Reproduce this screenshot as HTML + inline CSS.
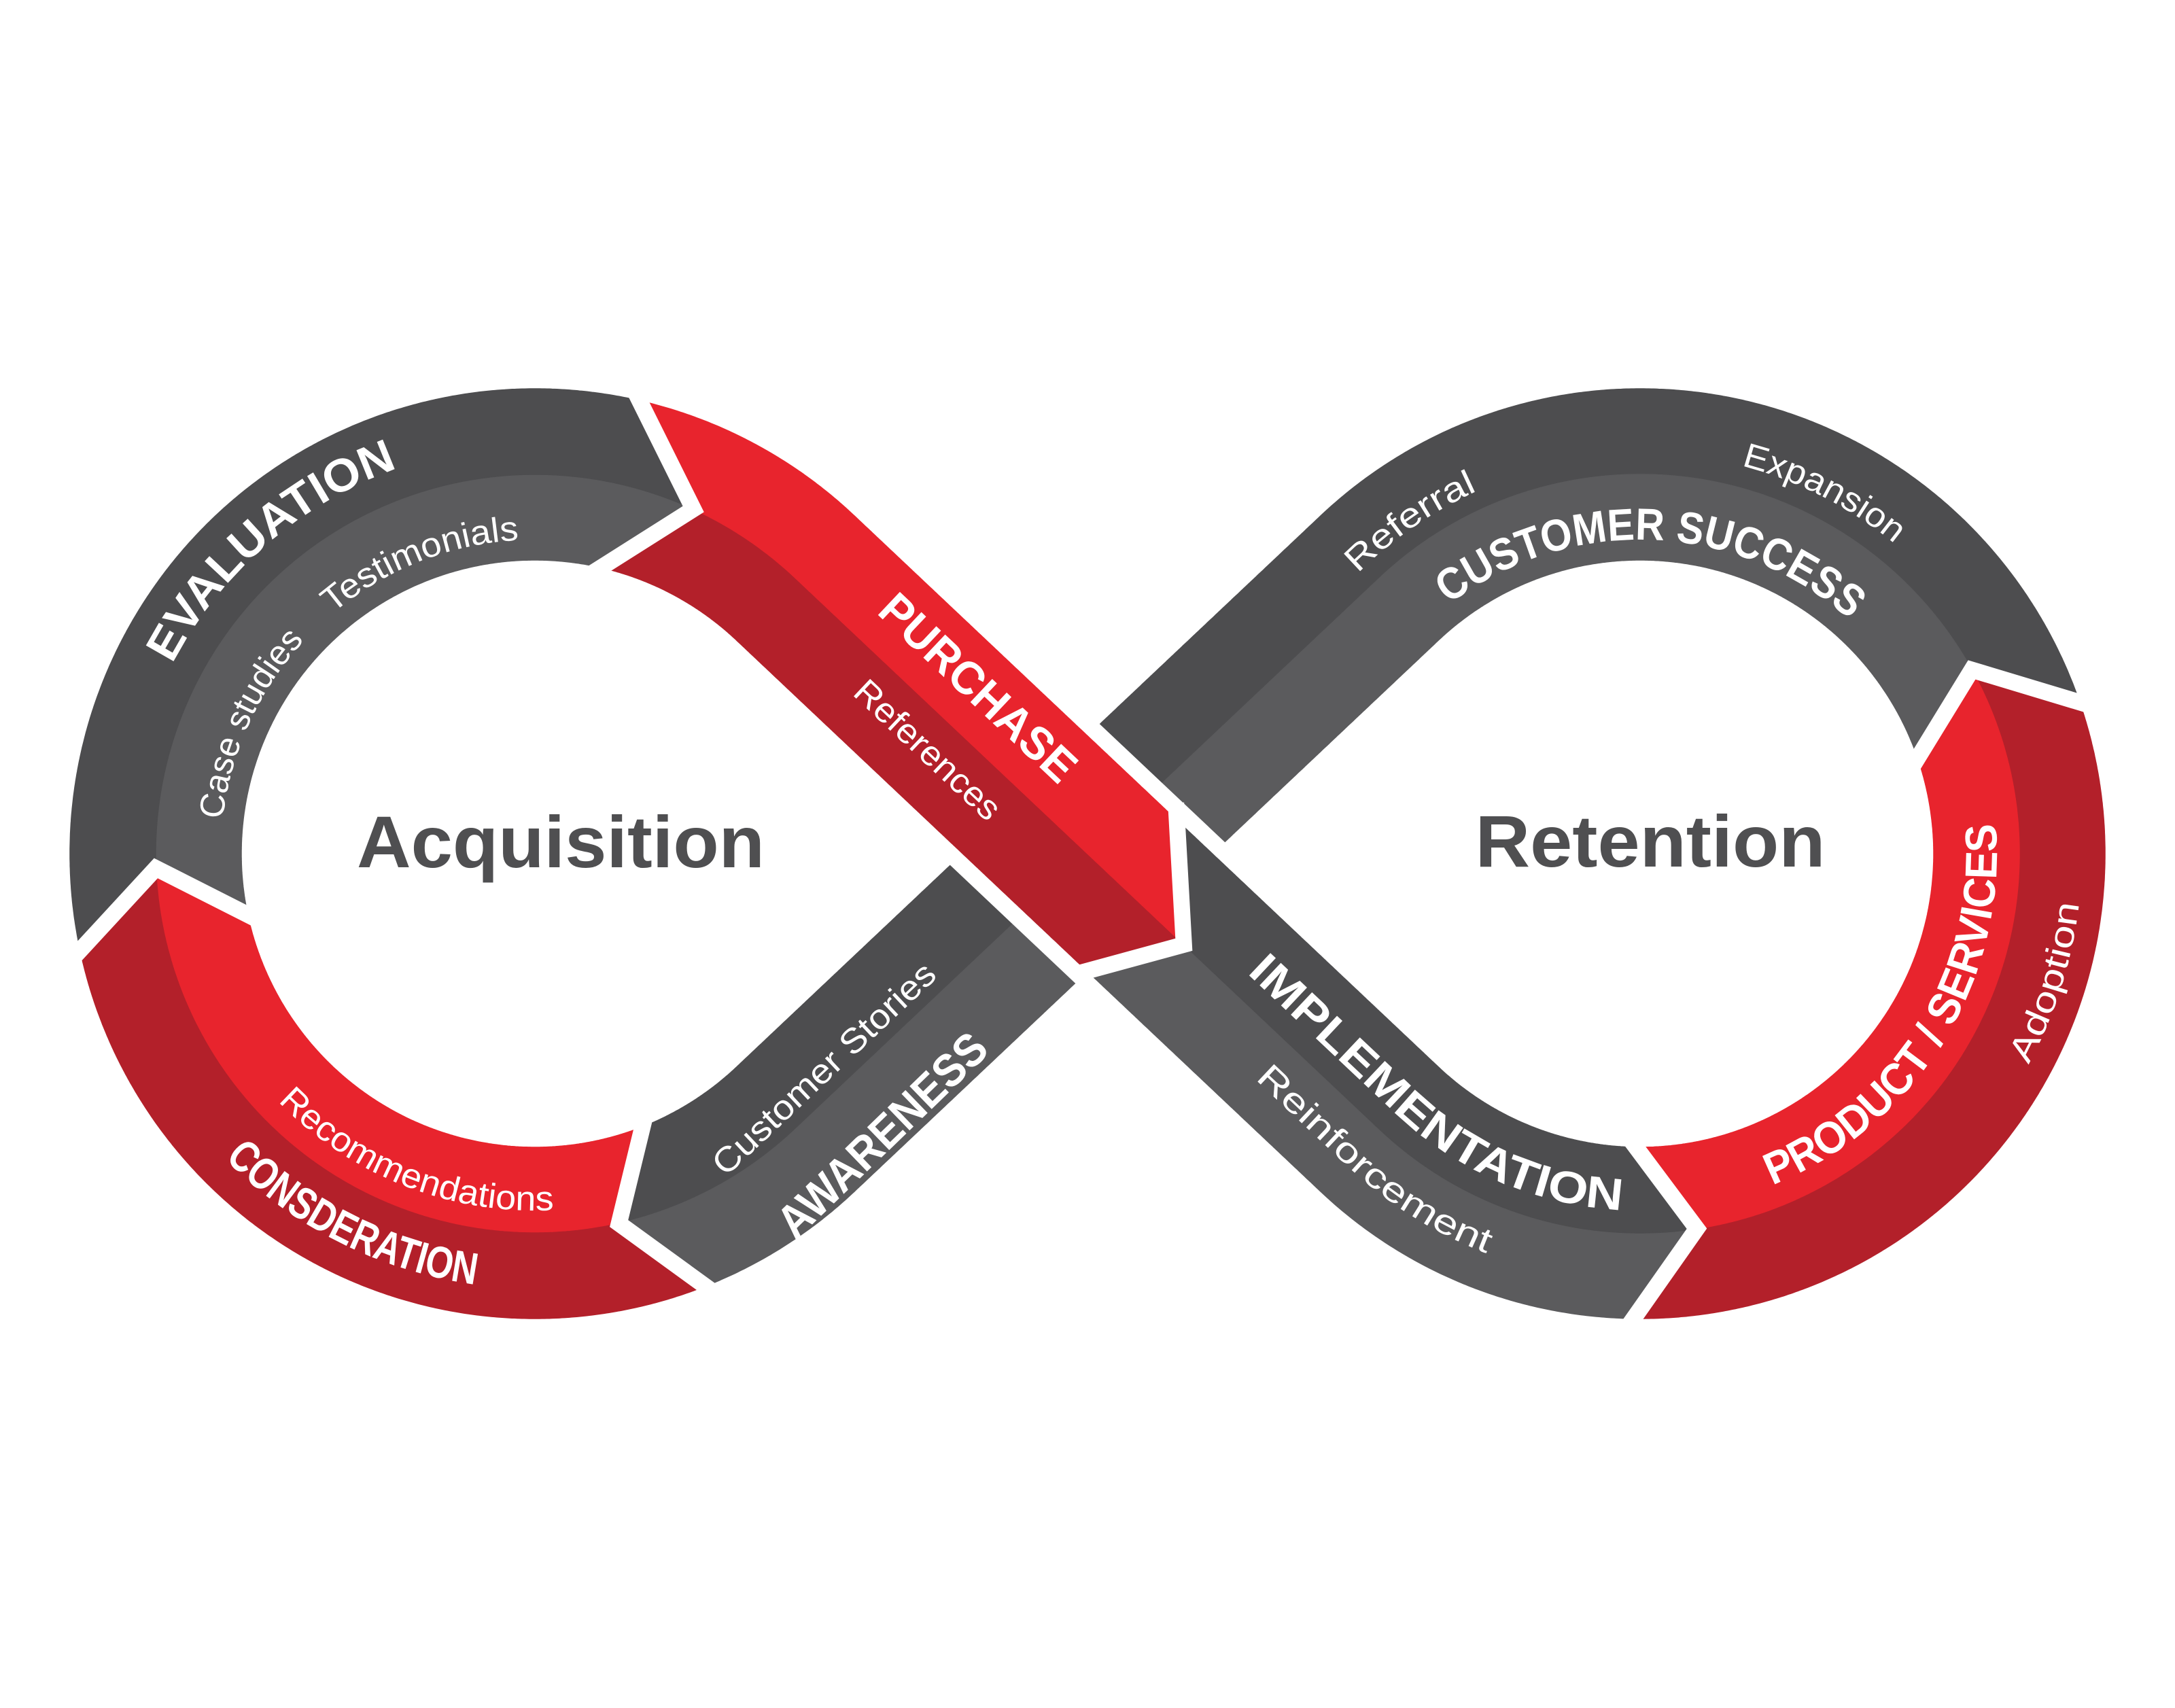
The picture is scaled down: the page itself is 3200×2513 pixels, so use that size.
<!DOCTYPE html>
<html><head><meta charset="utf-8">
<style>
html,body{margin:0;padding:0;background:#fff;}
svg{display:block;}
text{font-family:"Liberation Sans",sans-serif;fill:#fff;}
.b{font-weight:bold;}
</style></head>
<body>
<svg id="s" xmlns="http://www.w3.org/2000/svg" width="3200" height="2513" viewBox="0 0 3200 2513">
<defs>
<path id="t602" d="M-602,0 A602,602 0 0 1 602,0"/>
<path id="t462" d="M-462,0 A462,462 0 0 1 462,0"/>
<path id="t585" d="M-585,0 A585,585 0 0 1 585,0"/>
<path id="t590" d="M-590,0 A590,590 0 0 1 590,0"/>
<path id="b525" d="M-525,0 A525,525 0 0 0 525,0"/>
<path id="b640" d="M-640,0 A640,640 0 0 0 640,0"/>
<path id="b650" d="M-650,0 A650,650 0 0 0 650,0"/>
<path id="impl" d="M1616,1226 L2053,1638 A525,525 0 0 0 2675.5,1710.7"/>
<path id="reinf" d="M1544.3,1303 L1981,1714.5 A630,630 0 0 0 2728,1801.6"/>
</defs>
<g id="shapes"></g>
<g id="labels">
<text class="b" x="825" y="1276" text-anchor="middle" font-size="108" textLength="600" lengthAdjust="spacingAndGlyphs" style="fill:#4f4f51">Acquisition</text>
<text class="b" x="2428" y="1275" text-anchor="middle" font-size="108" textLength="515" lengthAdjust="spacingAndGlyphs" style="fill:#4f4f51">Retention</text>

<g transform="translate(787,1256) rotate(-41)"><text class="b" font-size="68" text-anchor="middle"><textPath href="#t602" startOffset="50%" textLength="450" lengthAdjust="spacingAndGlyphs">EVALUATION</textPath></text></g>
<g transform="translate(787,1256) rotate(-21.5)"><text font-size="51" text-anchor="middle"><textPath href="#t462" startOffset="50%" textLength="300" lengthAdjust="spacingAndGlyphs">Testimonials</textPath></text></g>
<g transform="translate(787,1256) rotate(-65.5)"><text font-size="51" text-anchor="middle"><textPath href="#t462" startOffset="50%" textLength="295" lengthAdjust="spacingAndGlyphs">Case studies</textPath></text></g>
<g transform="translate(787,1256) rotate(21.5)"><text font-size="51" text-anchor="middle"><textPath href="#b525" startOffset="50%" textLength="450" lengthAdjust="spacingAndGlyphs">Recommendations</textPath></text></g>
<g transform="translate(787,1256) rotate(26.7)"><text class="b" font-size="66" text-anchor="middle"><textPath href="#b640" startOffset="50%" textLength="420" lengthAdjust="spacingAndGlyphs">CONSDERATION</textPath></text></g>

<text class="b" font-size="68" text-anchor="middle" dominant-baseline="central" transform="translate(1439,1012) rotate(43.3)" textLength="370" lengthAdjust="spacingAndGlyphs">PURCHASE</text>
<text font-size="51" text-anchor="middle" dominant-baseline="central" transform="translate(1365,1103) rotate(43.3)" textLength="275" lengthAdjust="spacingAndGlyphs">References</text>
<text font-size="51" text-anchor="middle" dominant-baseline="central" transform="translate(1212,1572) rotate(-43.3)" textLength="430" lengthAdjust="spacingAndGlyphs">Customer Stories</text>
<text class="b" font-size="68" text-anchor="middle" dominant-baseline="central" transform="translate(1298,1670) rotate(-44)" textLength="400" lengthAdjust="spacingAndGlyphs">AWARENESS</text>

<g transform="translate(2413,1256) rotate(-34.7)"><text font-size="51" text-anchor="middle"><textPath href="#t585" startOffset="50%" textLength="215" lengthAdjust="spacingAndGlyphs">Referral</textPath></text></g>
<g transform="translate(2413,1256) rotate(27)"><text font-size="51" text-anchor="middle"><textPath href="#t590" startOffset="50%" textLength="255" lengthAdjust="spacingAndGlyphs">Expansion</textPath></text></g>
<g transform="translate(2413,1256) rotate(2.2)"><text class="b" font-size="66" text-anchor="middle"><textPath href="#t462" startOffset="50%" textLength="640" lengthAdjust="spacingAndGlyphs">CUSTOMER SUCCESS</textPath></text></g>
<g transform="translate(2413,1256) rotate(-58.3)"><text class="b" font-size="66" text-anchor="middle"><textPath href="#b525" startOffset="50%" textLength="670" lengthAdjust="spacingAndGlyphs">PRODUCT / SERVICES</textPath></text></g>
<g transform="translate(2413,1256) rotate(-72.5)"><text font-size="51" text-anchor="middle"><textPath href="#b650" startOffset="50%" textLength="250" lengthAdjust="spacingAndGlyphs">Adoption</textPath></text></g>
<text class="b" font-size="66"><textPath href="#impl" startOffset="300" textLength="670" lengthAdjust="spacingAndGlyphs">IMPLEMENTATION</textPath></text>
<text font-size="51"><textPath href="#reinf" startOffset="415" textLength="430" lengthAdjust="spacingAndGlyphs">Reinforcement</textPath></text>
</g>
</svg>
<script>
(function(){
var NS="http://www.w3.org/2000/svg";
var g=document.getElementById("shapes");
var C1=[787,1256],C2=[2413,1256],M=[1600,1256],R=558,W=126,D=813;
var th=Math.asin(R/D),phi=Math.PI/2-th,L=Math.sqrt(D*D-R*R),A=R*(2*Math.PI-2*phi);
var e=[Math.cos(th),-Math.sin(th)],d=[Math.cos(th),Math.sin(th)];
var s1=L,s2=L+A,s3=s2+2*L,s4=s3+A,S=s4+L,sM2=s2+L;
var Q2=[C1[0]+R*Math.cos(-phi),C1[1]+R*Math.sin(-phi)];
var Q4=[C2[0]+R*Math.cos(phi-Math.PI),C2[1]+R*Math.sin(phi-Math.PI)];
var rad=Math.PI/180;
function P(s){var x,y,tx,ty,a;
 if(s<=s1){x=M[0]-s*e[0];y=M[1]-s*e[1];tx=-e[0];ty=-e[1];}
 else if(s<=s2){a=phi+(s-s1)/R;x=C1[0]+R*Math.cos(a);y=C1[1]+R*Math.sin(a);tx=-Math.sin(a);ty=Math.cos(a);}
 else if(s<=s3){x=Q2[0]+(s-s2)*d[0];y=Q2[1]+(s-s2)*d[1];tx=d[0];ty=d[1];}
 else if(s<=s4){a=(Math.PI-phi)-(s-s3)/R;x=C2[0]+R*Math.cos(a);y=C2[1]+R*Math.sin(a);tx=Math.sin(a);ty=-Math.cos(a);}
 else{x=Q4[0]-(s-s4)*e[0];y=Q4[1]-(s-s4)*e[1];tx=-e[0];ty=-e[1];}
 return [x,y,-ty,tx];}
function map(s,o){var p=P(s);return [p[0]+o*p[2],p[1]+o*p[3]];}
function sC1(deg){return s1+R*(deg*rad-phi);}
function sC2(deg){return s3+R*(Math.PI-phi-deg*rad);}
var B=[{t:0,p:0,n:0},
 {t:sC1(77.2),p:sC1(68.5),n:sC1(68.5)},
 {t:sC1(177.8),p:sC1(168),n:sC1(168)},
 {t:sC1(294.7),p:sC1(283),n:sC1(283)},
 {t:sM2+195,p:sM2+118,n:sM2+62},
 {t:sC2(81.4),p:sC2(90.8),n:sC2(90.8)},
 {t:sC2(-29),p:sC2(-19),n:sC2(-19)},
 {t:S,p:S,n:S}];
var DG="#4d4d4f",LG="#5b5b5d",RD="#e8242d",DR="#b3202a";
var cols=[[DG,LG],[RD,DR],[LG,DG],[DR,RD],[LG,DG],[DR,RD],[DG,LG]];
function half(b0,b1,sg,col){
 var w0=sg>0?b0.p:b0.n,w1=sg>0?b1.p:b1.n,pts=[],s;
 pts.push(map(b0.t,0));pts.push(map(w0,sg*W));
 for(s=w0;s<w1;s+=3)pts.push(map(s,sg*W));
 pts.push(map(w1,sg*W));pts.push(map(b1.t,0));
 for(s=b1.t;s>b0.t;s-=3)pts.push(map(s,0));
 pts.push(map(b0.t,0));
 var el=document.createElementNS(NS,"polygon");
 el.setAttribute("points",pts.map(function(q){return q[0].toFixed(1)+","+q[1].toFixed(1);}).join(" "));
 el.setAttribute("fill",col);el.setAttribute("stroke",col);el.setAttribute("stroke-width","1.5");
 g.appendChild(el);}
function seg(i){half(B[i],B[i+1],1,cols[i][0]);half(B[i],B[i+1],-1,cols[i][1]);}
[0,1,2,5,6].forEach(seg);
var a1=map(sM2-300,0),a2=map(sM2+300,0);
var wl=document.createElementNS(NS,"line");
wl.setAttribute("x1",a1[0]);wl.setAttribute("y1",a1[1]);wl.setAttribute("x2",a2[0]);wl.setAttribute("y2",a2[1]);
wl.setAttribute("stroke","#fff");wl.setAttribute("stroke-width",2*W+50);
g.appendChild(wl);
seg(3);seg(4);
for(var i=1;i<=6;i++){
 var b=B[i],Aq=map(b.n,-W),T=map(b.t,0),Bq=map(b.p,W);
 var A2=[Aq[0]+(Aq[0]-T[0])*0.14,Aq[1]+(Aq[1]-T[1])*0.14],B2=[Bq[0]+(Bq[0]-T[0])*0.14,Bq[1]+(Bq[1]-T[1])*0.14];
 var pl=document.createElementNS(NS,"polyline");
 pl.setAttribute("points",A2.join(",")+" "+T.join(",")+" "+B2.join(","));
 pl.setAttribute("fill","none");pl.setAttribute("stroke","#fff");pl.setAttribute("stroke-width","24");
 pl.setAttribute("stroke-linejoin","miter");pl.setAttribute("stroke-miterlimit","10");
 g.appendChild(pl);}
})();
</script>
</body></html>
